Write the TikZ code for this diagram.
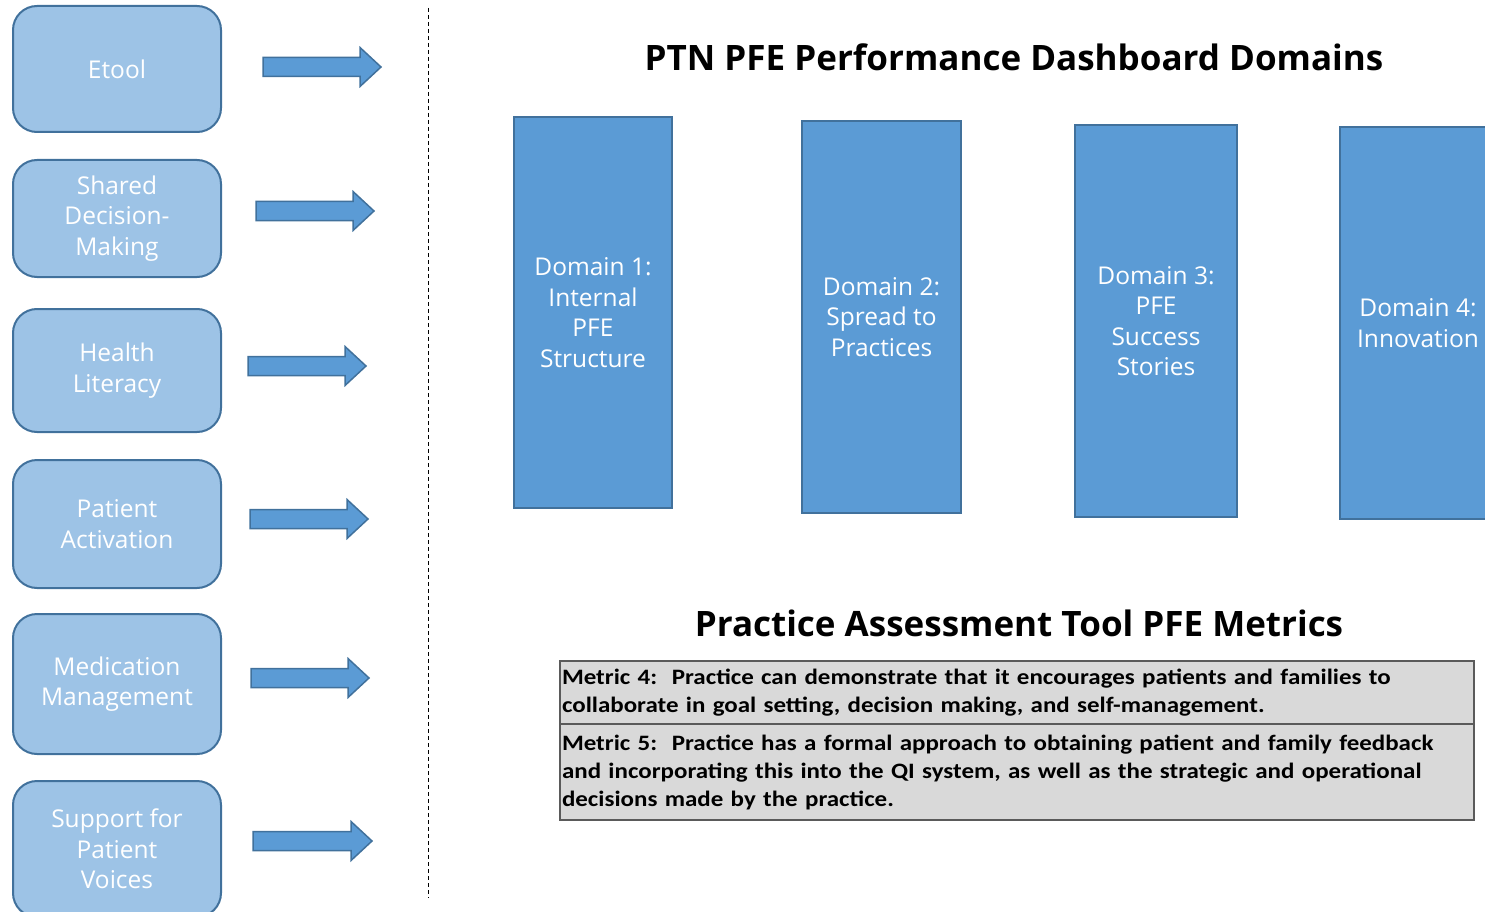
\documentclass[tikz,border=0pt]{standalone}
\usepackage{fontspec}
\setmainfont{Open Sans}
\newfontfamily\calib[FakeStretch=1.135]{Carlito}
\definecolor{boxedge}{HTML}{41719C}
\definecolor{lightfill}{HTML}{9DC3E6}
\definecolor{darkfill}{HTML}{5B9BD5}
\definecolor{tablefill}{HTML}{D9D9D9}
\definecolor{tableedge}{HTML}{5A5A5A}
\newcommand{\blockarrowat}[3]{%
  \draw[barrow] (#1,#3-9.5) -- (#2-21,#3-9.5) -- (#2-21,#3-19.5) -- (#2,#3) -- (#2-21,#3+19.5) -- (#2-21,#3+9.5) -- (#1,#3+9.5) -- cycle;}
\begin{document}
\begin{tikzpicture}[x=1pt,y=-1pt,
  lbox/.style={draw=boxedge, line width=2pt, fill=lightfill, rounded corners=24pt, text=white, align=center, font=\fontsize{24.5}{30.5}\selectfont, inner sep=0pt, minimum width=208pt},
  dbox/.style={draw=boxedge, line width=2pt, fill=darkfill, text=white, align=center, font=\fontsize{24.5}{30.5}\selectfont, inner sep=0pt},
  barrow/.style={draw=boxedge, line width=1.5pt, fill=darkfill},
  titletext/.style={font=\bfseries\fontsize{35}{40}\selectfont, inner sep=0pt},
  mrow/.style={draw=tableedge, line width=1.5pt, fill=tablefill, align=left, text width=910pt, inner xsep=2pt, inner ysep=0pt, font=\calib\bfseries\fontsize{22}{28}\selectfont, minimum width=914pt}
]
\useasboundingbox (0,0) rectangle (1485,912);
\clip (0,0) rectangle (1485,912);

% left boxes
\node[lbox, minimum height=126pt] (etool) at (117,69) {Etool};
\node[lbox, minimum height=117pt] (sdm) at (117,218.5) {Shared\\Decision-\\Making};
\node[lbox, minimum height=123pt] (hl) at (117,370.5) {Health\\Literacy};
\node[lbox, minimum height=128pt] (pa) at (117,524) {Patient\\Activation};
\node[lbox, minimum height=140pt] (mm) at (117,684) {Medication\\Management};
\node[lbox, minimum height=136pt] (spv) at (117,849) {Support for\\Patient\\Voices};

% block arrows
\blockarrowat{263}{381}{67}
\blockarrowat{256}{374}{211}
\blockarrowat{248}{366}{366}
\blockarrowat{250}{368}{519}
\blockarrowat{251}{369}{678}
\blockarrowat{253}{372}{841}

% dashed divider
\coordinate (dtop) at (428,8);
\coordinate (dbot) at (428,898);
\draw[line width=1pt, dash pattern=on 4pt off 3pt] (dtop) -- (dbot);

% titles
\node[titletext] (t1) at (1014,57) {PTN PFE Performance Dashboard Domains};
\node[titletext] (t2) at (1019,623) {Practice Assessment Tool PFE Metrics};

% domain boxes
\node[dbox, minimum width=158pt, minimum height=391pt] (d1) at (593,312.5) {Domain 1:\\Internal\\PFE\\Structure};
\node[dbox, minimum width=159pt, minimum height=392pt] (d2) at (881.5,317) {Domain 2:\\Spread to\\Practices};
\node[dbox, minimum width=162pt, minimum height=392pt] (d3) at (1156,321) {Domain 3:\\PFE\\Success\\Stories};
\node[dbox, minimum width=156pt, minimum height=392pt] (d4) at (1418,323) {Domain 4:\\Innovation};

% metrics table
\node[mrow, minimum height=63pt] (m4) at (1017,692.5) {Metric 4:\ \ Practice can demonstrate that it encourages patients and families to\\collaborate in goal setting, decision making, and self-management.};
\node[mrow, minimum height=96pt] (m5) at (1017,772) {Metric 5:\ \ Practice has a formal approach to obtaining patient and family feedback\\and incorporating this into the QI system, as well as the strategic and operational\\decisions made by the practice.};
\end{tikzpicture}
\end{document}
